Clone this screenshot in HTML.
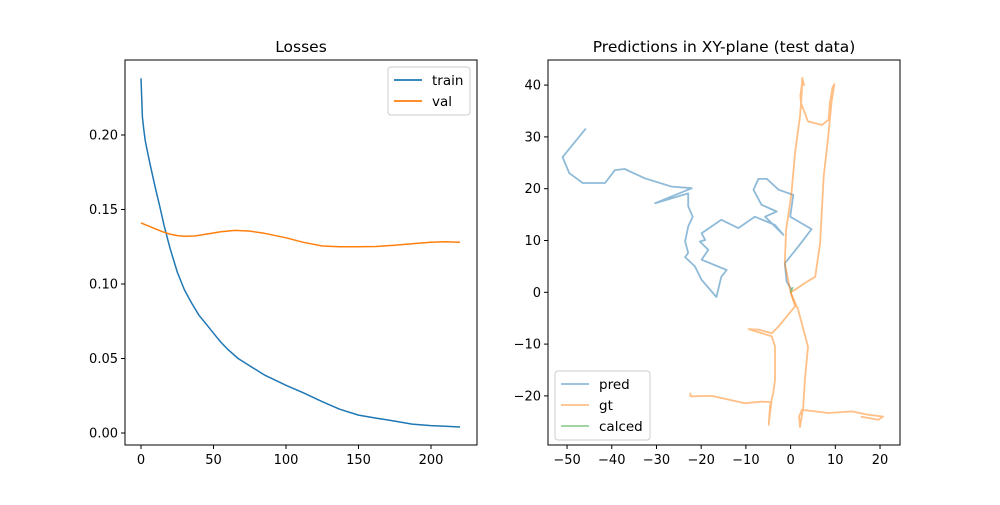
<!DOCTYPE html>
<html><head><meta charset="utf-8"><style>
body{margin:0;background:#fff;font-family:"Liberation Sans","DejaVu Sans",sans-serif;}
svg text{font-family:"DejaVu Sans","Liberation Sans",sans-serif;}
</style></head><body>
<svg id="chart" width="1000" height="500" xmlns="http://www.w3.org/2000/svg"></svg>
<script>
// Loss chart data
const lossEpochs = [0,1,2,3,5,7,10,13,16,20,25,30,35,40,45,50,55,60,67,75,85,100,112,125,137,150,162,175,187,200,210,220];
const trainLoss  = [0.238,0.212,0.203,0.196,0.186,0.177,0.164,0.152,0.139,0.124,0.108,0.096,0.087,0.079,0.073,0.067,0.061,0.056,0.050,0.045,0.039,0.032,0.027,0.021,0.016,0.012,0.010,0.008,0.006,0.005,0.0045,0.004];
const valEpochs  = [0,5,10,15,20,25,30,37,45,55,65,75,85,100,112,125,137,150,162,175,187,200,210,220];
const valLoss    = [0.141,0.139,0.137,0.135,0.1335,0.1325,0.132,0.1322,0.1335,0.135,0.136,0.1355,0.134,0.131,0.128,0.1255,0.125,0.125,0.1252,0.126,0.127,0.128,0.1283,0.128];
const lossXTicks = [0,50,100,150,200];
const lossYTicks = [0,0.05,0.10,0.15,0.20];
const lossYTickLabels = ["0.00","0.05","0.10","0.15","0.20"];
// XY chart data
const predX = [-45.8,-51.0,-49.5,-46.5,-41.5,-39.3,-37.1,-32.6,-26.6,-22.1,-30.3,-22.9,-22.9,-21.9,-22.9,-23.6,-22.9,-23.6,-21.4,-19.9,-16.6,-15.5,-14.3,-19.9,-18.4,-20.3,-19.1,-19.9,-15.5,-11.7,-8.0,-3.5,-1.6,-5.7,-3.1,-6.5,-8.3,-7.2,-5.3,-2.7,0.6,-0.1,4.7,1.7,-1.3,-0.9,0.2];
const predY = [31.6,26.1,23.0,21.1,21.1,23.6,23.8,22.0,20.4,20.1,17.2,19.1,16.6,14.6,12.7,9.8,7.6,6.8,5.0,2.4,-0.9,3.0,4.3,6.3,8.2,9.8,10.1,11.4,14.0,12.4,14.6,13.0,11.1,14.6,15.6,16.9,19.8,21.9,21.9,19.8,18.8,14.6,12.2,8.8,5.6,2.1,0.5];
const gtAX = [0,-1.3,-1.0,0.2,1.0,2.1,2.5,2.6,3.0,2.6,2.2,2.3,3.9,7.0,8.5,8.8,9.4,9.8,9.2,8.4,7.4,6.6,5.5,3.2,1.0,0];
const gtAY = [0,5.6,12,19.2,27,34,38.5,41.4,40,40.6,38,36.6,33,32.3,33.3,36.6,39.6,40.2,37,30,22.4,9.5,3.0,1.8,0.5,0];
const gtBX = [0,1.7,3.9,3.2,2.8,2.1,1.9,2.5,5.5,8.5,13.7,17,20.7,19.6,15.7];
const gtBY = [0,-3.4,-10.5,-16.9,-22.4,-26,-24,-22.7,-23.0,-23.3,-23.0,-23.6,-24.0,-24.6,-24.0];
const gtCX = [0,1.0,-2.7,-4.2,-7.2,-9.4,-8,-4.2,-3.5,-3.5,-3.9,-4.6,-4.9,-4.3,-6.5,-10.2,-17.6,-22.4,-22.4];
const gtCY = [0,-2.7,-6.6,-7.9,-7.2,-7.1,-7.5,-8.5,-10.5,-16.9,-19.5,-22,-25.6,-21.2,-21.1,-21.4,-20.0,-20.1,-19.4];
const calcX = [0,0.5];
const calcY = [0,1.0];
const xyXTicks = [-50,-40,-30,-20,-10,0,10,20];
const xyYTicks = [-20,-10,0,10,20,30,40];

const svg = document.getElementById('chart');
const NS = 'http://www.w3.org/2000/svg';
function mk(tag, attrs, parent){const e=document.createElementNS(NS,tag);for(const k in attrs)e.setAttribute(k,attrs[k]);(parent||svg).appendChild(e);return e;}

const L={x0:125,x1:477,y0:60,y1:445};
const lx=v=>141+v*(290/200);
const ly=v=>433-v*(298/0.2);
const R={x0:548,x1:900,y0:60,y1:445};
const rx=v=>790.6+v*4.471;
const ry=v=>292.3-v*5.18;

function pts(xs,ys,fx,fy){return xs.map((x,i)=>fx(x).toFixed(1)+','+fy(ys[i]).toFixed(1)).join(' ');}

function axes(A,name,title,cx){
  const g=mk('g',{});
  
  
  const r=mk('rect',{x:A.x0,y:A.y0,width:A.x1-A.x0,height:A.y1-A.y0,fill:'none',stroke:'#000','stroke-width':1},g);
  
  
  const t=mk('text',{x:cx,y:52,'text-anchor':'middle','font-size':'15.5px'},g);
  t.textContent=title;
  
  
  return g;
}
const gl=axes(L,'losses-axes','Losses',301);
const gr=axes(R,'xy-axes','Predictions in XY-plane (test data)',724);

function xtick(g,x,y,label,name){
  mk('line',{x1:x,y1:y,x2:x,y2:y+4,stroke:'#000'},g);
  const t=mk('text',{x:x,y:y+19,'text-anchor':'middle','font-size':'13px'},g);
  t.textContent=label;
  
  
}
function ytick(g,x,y,label,name){
  mk('line',{x1:x,y1:y,x2:x-4,y2:y,stroke:'#000'},g);
  const t=mk('text',{x:x-7,y:y+4.5,'text-anchor':'end','font-size':'13px'},g);
  t.textContent=label;
  
  
}
lossXTicks.forEach(v=>xtick(gl,lx(v),L.y1,String(v),'losses-x-tick'));
lossYTicks.forEach((v,i)=>ytick(gl,L.x0,ly(v),lossYTickLabels[i],'losses-y-tick'));
xyXTicks.forEach(v=>xtick(gr,rx(v),R.y1,v<0?'\u2212'+(-v):String(v),'xy-x-tick'));
xyYTicks.forEach(v=>ytick(gr,R.x0,ry(v),v<0?'\u2212'+(-v):String(v),'xy-y-tick'));

const tl=mk('polyline',{points:pts(lossEpochs,trainLoss,lx,ly),fill:'none',stroke:'#1f77b4','stroke-width':1.5,'stroke-linejoin':'round'},gl);


const vl=mk('polyline',{points:pts(valEpochs,valLoss,lx,ly),fill:'none',stroke:'#ff7f0e','stroke-width':1.5,'stroke-linejoin':'round'},gl);



const pl=mk('polyline',{points:pts(predX,predY,rx,ry),fill:'none',stroke:'#1f77b4','stroke-opacity':0.5,'stroke-width':1.8,'stroke-linejoin':'round'},gr);


[[gtAX,gtAY],[gtBX,gtBY],[gtCX,gtCY]].forEach(([xs,ys])=>{
  const p=mk('polyline',{points:pts(xs,ys,rx,ry),fill:'none',stroke:'#ff7f0e','stroke-opacity':0.5,'stroke-width':1.8,'stroke-linejoin':'round'},gr);
  
  
});
const cl=mk('polyline',{points:pts(calcX,calcY,rx,ry),fill:'none',stroke:'#2ca02c','stroke-opacity':0.5,'stroke-width':1.8},gr);



function legend(g,x,y,w,entries,name,alpha){
  const lg=mk('g',{},g);
  
  
  mk('rect',{x:x,y:y,width:w,height:entries.length*21+6,rx:3,fill:'#fff','fill-opacity':0.8,stroke:'#ccc'},lg);
  entries.forEach((e,i)=>{
    const cy=y+13+i*21;
    mk('line',{x1:x+6,y1:cy,x2:x+34,y2:cy,stroke:e[1],'stroke-width':1.8,'stroke-opacity':alpha},lg);
    const t=mk('text',{x:x+44,y:cy+5,'font-size':'13.5px'},lg);
    t.textContent=e[0];
    
    
  });
}
legend(gl,388,67,82,[['train','#1f77b4'],['val','#ff7f0e']],'losses-legend',1);
legend(gr,555,371,95,[['pred','#1f77b4'],['gt','#ff7f0e'],['calced','#2ca02c']],'xy-legend',0.5);
</script>
</body></html>
